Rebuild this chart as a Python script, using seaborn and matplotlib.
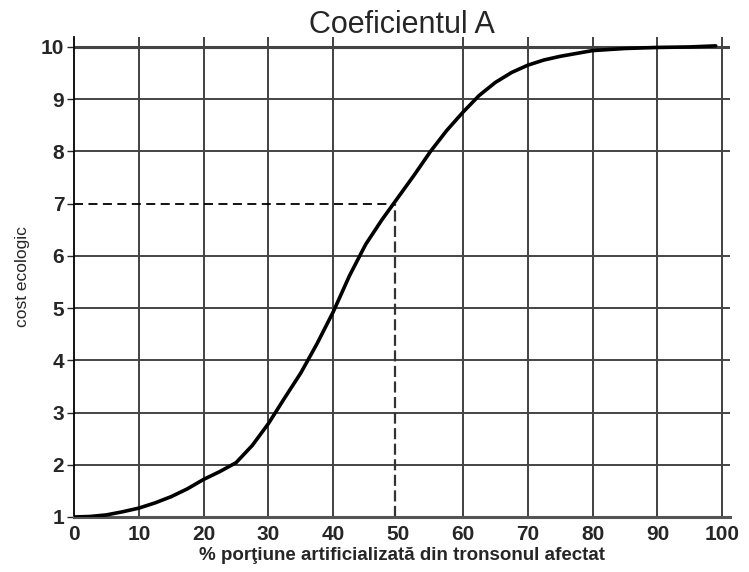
import numpy as np
import pandas as pd
import seaborn as sns
import matplotlib.pyplot as plt

# curve values
procent = [0, 2.5, 5, 7.5, 10, 12.5, 15, 17.5, 20, 22.5, 25, 27.5, 30, 32.5, 35, 37.5,
           40, 42.5, 45, 47.5, 50, 52.5, 55, 57.5, 60, 62.5, 65, 67.5, 70, 72.5, 75,
           80, 85, 90, 95, 99]
cost = [1.0, 1.01, 1.04, 1.1, 1.17, 1.27, 1.39, 1.54, 1.72, 1.87, 2.04, 2.37, 2.79, 3.28,
        3.76, 4.32, 4.93, 5.62, 6.22, 6.69, 7.12, 7.55, 8.0, 8.4, 8.75, 9.07, 9.32, 9.51,
        9.65, 9.75, 9.82, 9.93, 9.97, 9.99, 10.0, 10.02]

# reference reading (dashed lines)
x_citit = 49.5
y_citit = 7

x_ticks = list(range(0, 101, 10))
y_ticks = list(range(1, 11))

df = pd.DataFrame({'procent': procent, 'cost': cost})

sns.set_style('white')
plt.rcParams['font.family'] = ['Liberation Sans', 'DejaVu Sans']

fig = plt.figure(figsize=(7.49, 5.72), dpi=100)
ax = fig.add_axes([74 / 749, 1 - 517 / 572, 656 / 749, 480 / 572])

# grid
for xv in x_ticks[1:]:
    if xv == 50:
        continue
    ax.axvline(xv, color='#333333', lw=1.3, zorder=1)
for yv in y_ticks[1:]:
    if yv == y_citit:
        continue
    ax.axhline(yv, color='#444444', lw=1.4 if yv < 10 else 2.2, zorder=1)

# dashed reading lines
ax.plot([0, x_citit], [y_citit, y_citit], color='black', lw=1.3, ls=(0, (5, 3)), zorder=2)
ax.plot([x_citit, x_citit], [1, y_citit], color='#333333', lw=1.6, ls=(0, (5, 2)), zorder=2)

sns.lineplot(data=df, x='procent', y='cost', color='black', linewidth=2.6, ax=ax, zorder=3)

ax.set_xlim(0, 101.2)
ax.set_ylim(1, 10.19)
ax.set_xticks(x_ticks)
ax.set_yticks(y_ticks)
ax.tick_params(axis='x', length=0, pad=6, labelsize=15)
ax.tick_params(axis='y', length=5, width=1, direction='out', pad=2, labelsize=15, left=True)
for lab in ax.get_xticklabels() + ax.get_yticklabels():
    lab.set_fontweight('bold')

for s in ['top', 'right']:
    ax.spines[s].set_visible(False)
ax.spines['left'].set_color('black')
ax.spines['left'].set_linewidth(1.3)
ax.spines['bottom'].set_color('#555555')
ax.spines['bottom'].set_linewidth(2.2)

ax.set_title('Coeficientul A', fontsize=22, pad=3)
ax.set_xlabel('% porţiune artificializată din tronsonul afectat', fontsize=13.5,
              fontweight='bold', labelpad=2)
ax.set_ylabel('cost ecologic', fontsize=12.5, labelpad=8)

fig.savefig('out.png', dpi=100)
